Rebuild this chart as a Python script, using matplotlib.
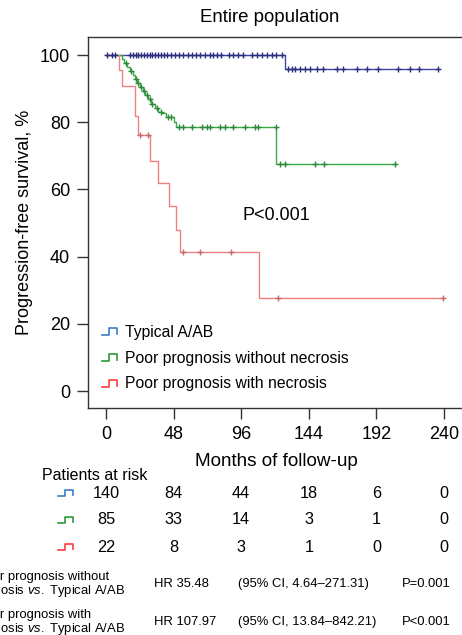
import numpy as np
import matplotlib
matplotlib.use("Agg")
import matplotlib.pyplot as plt
from matplotlib.lines import Line2D
from matplotlib.legend_handler import HandlerBase
import matplotlib.transforms as mtransforms

plt.rcParams['font.family'] = ['Liberation Sans', 'DejaVu Sans']
plt.rcParams['mathtext.fontset'] = 'custom'
plt.rcParams['mathtext.rm'] = 'Liberation Sans'
plt.rcParams['mathtext.it'] = 'Liberation Sans:italic'

# ---------------- data ----------------
groups = ["Typical A/AB", "Poor prognosis without necrosis", "Poor prognosis with necrosis"]

# step curves: event times (months) and survival (%) after each step
blue_t = [0, 127, 236]
blue_s = [100, 96.0, 96.0]
blue_cens = [1, 4, 6.5, 17, 19, 21, 23, 25, 27, 29, 31, 33, 35, 37, 39, 41, 43, 46, 49, 52,
             55, 58, 61, 64, 67, 70, 74, 76, 79, 82, 87, 90, 94, 97.5, 103.5, 107, 110.5, 114,
             117.7, 121, 125,
             129.5, 132, 134, 138, 141, 145, 149.5, 154, 164, 168.5, 178, 185, 193.5, 207.5,
             216, 222, 236]

green_t = [0, 11, 13, 15, 17, 19, 20.5, 22, 24, 26, 28, 30, 32, 34.5, 37, 40, 42.5, 48, 50, 121, 206]
green_s = [100, 98.8, 97.6, 96.4, 95.2, 94.0, 92.8, 91.6, 90.4, 89.2, 88.0, 86.8, 85.6, 84.4,
           83.2, 82.8, 81.6, 80.2, 78.7, 67.6, 67.6]
green_cens = [14, 18, 21, 23, 25, 27, 29, 31, 33, 36, 39, 44, 46, 52, 55, 61, 68, 71.5, 74, 81,
              84.5, 90.5, 98.7, 106, 108, 120.5, 123.5, 127, 148.5, 154.5, 205.5]

red_t = [0, 9, 11, 20.5, 23, 31, 37, 44.5, 49.5, 52.5, 108.5, 239]
red_s = [100, 95.5, 90.9, 81.8, 76.2, 68.5, 61.9, 55.0, 48.0, 41.3, 27.6, 27.6]
red_cens = [24, 30, 55, 66.5, 88.5, 122, 239]

at_risk_times = [0, 48, 96, 144, 192, 240]
at_risk = [[140, 84, 44, 18, 6, 0],
           [85, 33, 14, 3, 1, 0],
           [22, 8, 3, 1, 0, 0]]

hr_labels = [("Poor prognosis without", "necrosis $\\it{vs.}$ Typical A/AB"),
             ("Poor prognosis with", "necrosis $\\it{vs.}$ Typical A/AB")]
hr_values = ["HR 35.48", "HR 107.97"]
hr_ci = ["(95% CI, 4.64\u2013271.31)", "(95% CI, 13.84\u2013842.21)"]
hr_p = ["P=0.001", "P<0.001"]

line_colors = ["#3f48a8", "#3aaa4a", "#f08080"]
mark_colors = ["#2a2f80", "#2d8a3a", "#c86a6a"]
glyph_colors = ["#3d7cc9", "#2a9a3a", "#ff3b3b"]

# ---------------- figure ----------------
W, H = 462, 635
fig = plt.figure(figsize=(W / 100, H / 100), dpi=100)

def fx(px):
    return px / W

def fy(py):
    return 1 - py / H

ax = fig.add_axes([fx(88), fy(408), fx(462) - fx(88), fy(37) - fy(408)])
ax.set_xlim(-12.8, 252.8)
ax.set_ylim(-5.06, 105.4)

series = [(blue_t, blue_s, blue_cens), (green_t, green_s, green_cens), (red_t, red_s, red_cens)]
for (t, s, c), lc, mc in zip(series, line_colors, mark_colors):
    ax.step(t, s, where='post', color=lc, lw=1.0, zorder=3)
    cy = np.interp(c, t, s, left=100)
    # survival value at censor time from step function
    cy = [s[np.searchsorted(t, ci, side='right') - 1] for ci in c]
    ax.plot(c, cy, ls='none', marker='+', ms=4, mew=1.0, color=mc, zorder=4)

ax.set_xticks(at_risk_times)
ax.set_yticks([0, 20, 40, 60, 80, 100])
ax.tick_params(axis='both', labelsize=13, length=8, width=1, color='#333333', pad=5)
for sp in ['left', 'bottom', 'top']:
    ax.spines[sp].set_color('#333333')
    ax.spines[sp].set_linewidth(1)
ax.spines['right'].set_visible(False)

ax.text(96.6, 52.4, "P<0.001", fontsize=13, va='center', ha='left')

# legend with step glyphs
class StepHandler(HandlerBase):
    def create_artists(self, legend, orig_handle, xdescent, ydescent, width, height, fontsize, trans):
        xs = np.array([0, 0.45, 0.45, 1, 1]) * width - xdescent
        ys = np.array([0.15, 0.15, 0.8, 0.8, 0.25]) * height - ydescent
        ln = Line2D(xs, ys, color=orig_handle.get_color(), lw=1.2)
        ln.set_transform(trans)
        return [ln]

handles = [Line2D([], [], color=c) for c in glyph_colors]
ax.legend(handles, groups, handler_map={Line2D: StepHandler()}, frameon=False,
          loc='upper left', bbox_to_anchor=(fx(102), fy(325)), bbox_transform=fig.transFigure,
          fontsize=11.3, handlelength=0.95, handletextpad=0.5, labelspacing=0.68,
          borderpad=0, borderaxespad=0)

# titles and labels
fig.text(fx(270), fy(17), "Entire population", fontsize=13.4, ha='center', va='center')
fig.text(fx(25), fy(222), "Progression-free survival, %", fontsize=13, rotation=90,
         ha='center', va='center')
fig.text(fx(276.5), fy(462), "Months of follow-up", fontsize=13.6, ha='center', va='center')

# risk table
fig.text(fx(42), fy(475), "Patients at risk", fontsize=11.5, ha='left', va='center')
blend = mtransforms.blended_transform_factory(ax.transData, fig.transFigure)
row_y = [493, 520, 547]
for vals, ry, gc in zip(at_risk, row_y, glyph_colors):
    for tx, v in zip(at_risk_times, vals):
        fig.text(tx, fy(ry), str(v), transform=blend, fontsize=11.7, ha='center', va='center')
    gx = np.array([58, 65, 65, 73, 73])
    gy = np.array([ry + 3, ry + 3, ry - 3, ry - 3, ry + 2])
    fig.add_artist(Line2D(fx(gx), fy(gy), color=gc, lw=1.2, transform=fig.transFigure))

# hazard ratios
hr_y = [584, 622]
for (l1, l2), hv, ci, p, yy in zip(hr_labels, hr_values, hr_ci, hr_p, hr_y):
    fig.text(fx(-23), fy(yy - 7), l1, fontsize=9.4, ha='left', va='center')
    fig.text(fx(-25), fy(yy + 7), l2, fontsize=9.4, ha='left', va='center')
    fig.text(fx(154), fy(yy), hv, fontsize=9.4, ha='left', va='center')
    fig.text(fx(238), fy(yy), ci, fontsize=9.4, ha='left', va='center')
    fig.text(fx(402), fy(yy), p, fontsize=9.4, ha='left', va='center')

fig.savefig("out.png", dpi=100)
